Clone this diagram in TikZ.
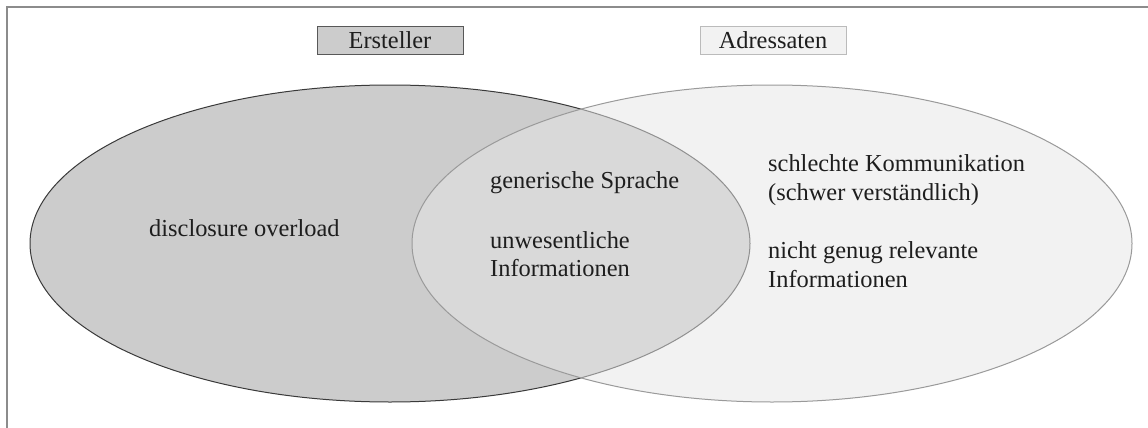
\documentclass[tikz,border=0pt]{standalone}
\usepackage{fontspec}
\setmainfont{Liberation Serif}
\usetikzlibrary{shapes.geometric}

\definecolor{frameline}{HTML}{8C8C8C}
\definecolor{darkfill}{HTML}{CCCCCC}
\definecolor{darkedge}{HTML}{3A3A3A}
\definecolor{lightfill}{HTML}{E6E6E6}
\definecolor{lightedge}{HTML}{9A9A9A}
\definecolor{labelbg}{HTML}{F2F2F2}
\definecolor{labeledge}{HTML}{BBBBBB}
\definecolor{ink}{HTML}{1E1E1E}

\tikzset{
  setshape/.style={ellipse, inner sep=0pt, minimum width=720pt, minimum height=317pt, line width=1pt},
  legend/.style={rectangle, inner sep=0pt, minimum width=146pt, minimum height=28pt, line width=0.9pt,
                 text=ink, font=\fontsize{24.4}{28}\selectfont},
  txt/.style={anchor=base west, inner sep=0pt, text=ink, font=\fontsize{24.4}{28}\selectfont}
}

\begin{document}
\begin{tikzpicture}[x=1pt, y=-1pt]
  \useasboundingbox (0,0) rectangle (1148,428);
  \fill[white] (0,0) rectangle (1148,428);

  % frame: only the left and top edges are visible
  \draw[frameline, line width=1.5pt] (7,428) -- (7,7) -- (1148,7);

  % legend boxes
  \node[legend, fill=darkfill, draw=darkedge!85] (ersteller) at (390,40) {Ersteller};
  \node[legend, fill=labelbg, draw=labeledge] (adressaten) at (773,40) {Adressaten};

  % the two overlapping sets
  \node[setshape, fill=darkfill, draw=darkedge] (setA) at (390,243.5) {};
  \node[setshape, fill=lightfill, fill opacity=0.5, draw=lightedge] (setB) at (772,243.5) {};

  % left-only region
  \node[txt] (t1) at (149,236) {disclosure overload};

  % overlap region
  \node[txt] (t2) at (490,188) {generische Sprache};
  \node[txt] (t3) at (490,248) {unwesentliche};
  \node[txt] (t4) at (490,276) {Informationen};

  % right-only region
  \node[txt] (t5) at (768,171.5) {schlechte Kommunikation};
  \node[txt] (t6) at (768,200) {(schwer verständlich)};
  \node[txt] (t7) at (768,258) {nicht genug relevante};
  \node[txt] (t8) at (768,287) {Informationen};
\end{tikzpicture}
\end{document}
